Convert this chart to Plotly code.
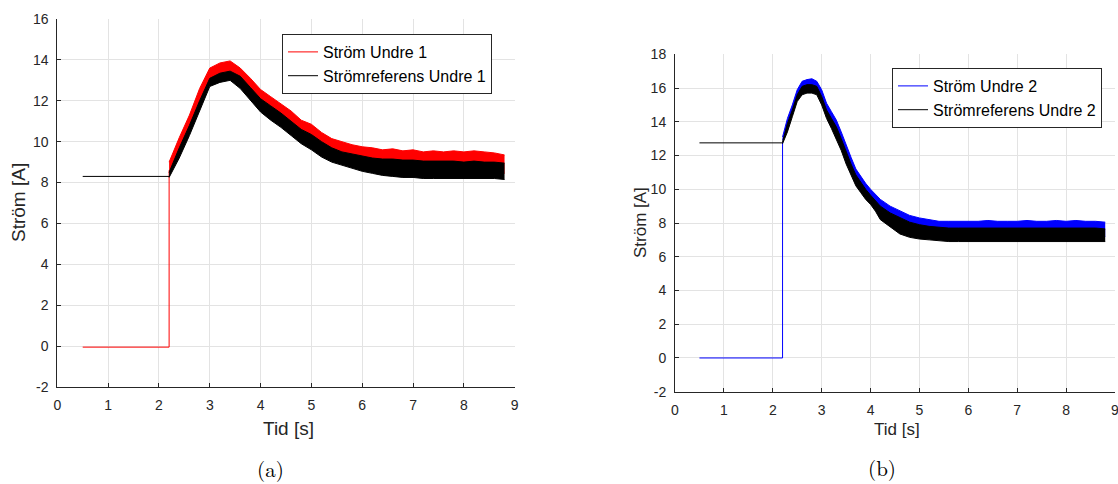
import plotly.graph_objects as go

# ---------------- data: panel (a) ----------------
t_pre1 = [0.5, 2.2, 2.2]
i1_pre = [-0.05, -0.05, 8.6]          # Ström Undre 1 before/at step
ref1_pre_t = [0.5, 2.2]
ref1_pre = [8.3, 8.3]                 # Strömreferens Undre 1 before step

t1 = [2.2, 2.4, 2.6, 2.8, 3.0, 3.2, 3.4, 3.6, 3.8, 4.0, 4.2, 4.4, 4.6, 4.8, 5.0,
      5.2, 5.4, 5.6, 5.8, 6.0, 6.2, 6.4, 6.6, 6.8, 7.0, 7.2, 7.4, 7.6, 7.8, 8.0,
      8.2, 8.4, 8.6, 8.8]
i1_hi = [9.0, 10.2, 11.3, 12.6, 13.6, 13.85, 13.95, 13.6, 13.1, 12.55, 12.2, 11.85,
         11.5, 11.05, 10.85, 10.45, 10.15, 10.0, 9.85, 9.75, 9.7, 9.6, 9.65, 9.55,
         9.6, 9.5, 9.55, 9.5, 9.55, 9.5, 9.55, 9.5, 9.45, 9.35]
i1_lo = [8.5, 9.5, 10.6, 11.8, 13.0, 13.2, 13.3, 12.9, 12.35, 11.75, 11.35, 11.0,
         10.6, 10.2, 9.9, 9.55, 9.3, 9.15, 9.0, 8.85, 8.75, 8.65, 8.6, 8.55,
         8.55, 8.5, 8.5, 8.5, 8.5, 8.5, 8.5, 8.5, 8.5, 8.45]
ref1_hi = [8.5, 9.7, 10.8, 12.0, 13.1, 13.35, 13.45, 13.2, 12.65, 12.1, 11.75, 11.4,
           11.0, 10.6, 10.35, 10.0, 9.7, 9.5, 9.4, 9.3, 9.2, 9.15, 9.15, 9.1,
           9.1, 9.05, 9.05, 9.05, 9.05, 9.0, 9.05, 9.0, 9.0, 8.95]
ref1_lo = [8.25, 9.2, 10.3, 11.5, 12.7, 12.9, 13.0, 12.6, 12.05, 11.45, 11.05, 10.7,
           10.3, 9.9, 9.6, 9.25, 9.0, 8.85, 8.7, 8.55, 8.45, 8.35, 8.3, 8.25,
           8.25, 8.2, 8.2, 8.2, 8.2, 8.2, 8.2, 8.2, 8.2, 8.15]

# ---------------- data: panel (b) ----------------
t_pre2 = [0.5, 2.2, 2.2]
i2_pre = [0.0, 0.0, 12.8]
ref2_pre_t = [0.5, 2.2]
ref2_pre = [12.75, 12.75]

t2 = [2.2, 2.3, 2.4, 2.5, 2.6, 2.7, 2.8, 2.9, 3.0, 3.1, 3.2, 3.3, 3.4, 3.5, 3.6,
      3.7, 3.8, 3.9, 4.0, 4.1, 4.2, 4.4, 4.6, 4.8, 5.0, 5.2, 5.4, 5.6, 5.8, 6.0,
      6.2, 6.4, 6.6, 6.8, 7.0, 7.2, 7.4, 7.6, 7.8, 8.0, 8.2, 8.4, 8.6, 8.8]
i2_hi = [13.1, 14.2, 15.0, 15.9, 16.4, 16.5, 16.55, 16.4, 15.9, 15.1, 14.6, 14.1,
         13.4, 12.6, 11.9, 11.2, 10.75, 10.35, 10.0, 9.7, 9.4, 9.0, 8.7, 8.45, 8.3,
         8.2, 8.1, 8.1, 8.1, 8.1, 8.1, 8.15, 8.1, 8.1, 8.1, 8.15, 8.1, 8.1, 8.15,
         8.1, 8.15, 8.1, 8.1, 8.05]
i2_lo = [12.9, 13.7, 14.6, 15.5, 15.9, 16.0, 16.0, 15.9, 15.3, 14.5, 13.9, 13.3,
         12.6, 11.8, 11.1, 10.5, 10.1, 9.7, 9.4, 9.0, 8.5, 8.05, 7.65, 7.45, 7.35,
         7.3, 7.25, 7.2, 7.2, 7.2, 7.2, 7.2, 7.2, 7.2, 7.2, 7.2, 7.2, 7.2, 7.2,
         7.2, 7.2, 7.2, 7.2, 7.2]
ref2_hi = [12.8, 13.9, 14.7, 15.6, 16.1, 16.2, 16.2, 16.1, 15.5, 14.7, 14.2, 13.7,
           13.0, 12.2, 11.5, 10.85, 10.4, 10.0, 9.65, 9.3, 9.0, 8.6, 8.3, 8.05, 7.9,
           7.8, 7.75, 7.7, 7.7, 7.7, 7.7, 7.72, 7.7, 7.7, 7.7, 7.72, 7.7, 7.7, 7.72,
           7.7, 7.72, 7.7, 7.7, 7.65]
ref2_lo = [12.7, 13.4, 14.3, 15.2, 15.6, 15.7, 15.7, 15.6, 15.0, 14.2, 13.6, 13.0,
           12.3, 11.5, 10.8, 10.2, 9.8, 9.4, 9.1, 8.7, 8.2, 7.75, 7.35, 7.15, 7.05,
           7.0, 6.95, 6.9, 6.9, 6.9, 6.9, 6.9, 6.9, 6.9, 6.9, 6.9, 6.9, 6.9, 6.9,
           6.9, 6.9, 6.9, 6.9, 6.9]

x_ticks = [0, 1, 2, 3, 4, 5, 6, 7, 8, 9]
x_ticktext = ["0", "1", "2", "3", "4", "5", "6", "7", "8", "9"]
y_ticks1 = [-2, 0, 2, 4, 6, 8, 10, 12, 14, 16]
y_ticktext1 = ["-2", "0", "2", "4", "6", "8", "10", "12", "14", "16"]
y_ticks2 = [-2, 0, 2, 4, 6, 8, 10, 12, 14, 16, 18]
y_ticktext2 = ["-2", "0", "2", "4", "6", "8", "10", "12", "14", "16", "18"]

RED, BLACK, BLUE = "#ff0000", "#000000", "#0000ff"
FONT = "Liberation Sans, Arial, Helvetica, sans-serif"
SERIF = "Latin Modern Roman, Liberation Serif, DejaVu Serif, serif"
TXT = "#262626"
GRID = "#e3e3e3"

fig = go.Figure()


def band(x, lo, hi, color, xa, ya):
    fig.add_trace(go.Scatter(x=x, y=lo, mode="lines", line=dict(color=color, width=1),
                             showlegend=False, hoverinfo="skip", xaxis=xa, yaxis=ya))
    fig.add_trace(go.Scatter(x=x, y=hi, mode="lines", line=dict(color=color, width=1),
                             fill="tonexty", fillcolor=color, showlegend=False,
                             hoverinfo="skip", xaxis=xa, yaxis=ya))


# panel (a)
fig.add_trace(go.Scatter(x=t_pre1, y=i1_pre, mode="lines", line=dict(color=RED, width=1),
                         name="Ström Undre 1", legend="legend", legendrank=1,
                         xaxis="x", yaxis="y"))
fig.add_trace(go.Scatter(x=ref1_pre_t, y=ref1_pre, mode="lines", line=dict(color=BLACK, width=1),
                         name="Strömreferens Undre 1", legend="legend", legendrank=2,
                         xaxis="x", yaxis="y"))
band(t1, i1_lo, i1_hi, RED, "x", "y")
band(t1, ref1_lo, ref1_hi, BLACK, "x", "y")

# panel (b)
fig.add_trace(go.Scatter(x=t_pre2, y=i2_pre, mode="lines", line=dict(color=BLUE, width=1),
                         name="Ström Undre 2", legend="legend2", legendrank=1,
                         xaxis="x2", yaxis="y2"))
fig.add_trace(go.Scatter(x=ref2_pre_t, y=ref2_pre, mode="lines", line=dict(color=BLACK, width=1),
                         name="Strömreferens Undre 2", legend="legend2", legendrank=2,
                         xaxis="x2", yaxis="y2"))
band(t2, i2_lo, i2_hi, BLUE, "x2", "y2")
band(t2, ref2_lo, ref2_hi, BLACK, "x2", "y2")

W, H = 1118, 484


def px(x):
    return x / W


def py(y):
    return 1 - y / H


axis_common = dict(showline=True, linecolor=TXT, linewidth=1, ticks="inside", ticklen=4,
                   tickcolor=TXT, showgrid=True, gridcolor=GRID, gridwidth=1,
                   zeroline=False, tickfont=dict(family=FONT, size=14, color=TXT),
                   ticklabelstandoff=5, mirror=False, automargin=False,
                   ticklabeloverflow="allow")

fig.update_layout(
    width=W, height=H, margin=dict(l=0, r=0, t=0, b=0, autoexpand=False),
    paper_bgcolor="white", plot_bgcolor="white",
    xaxis=dict(domain=[px(57.3), px(514.7)], range=[0, 9], tickvals=x_ticks,
               ticktext=x_ticktext, anchor="y", **axis_common),
    yaxis=dict(domain=[py(387), py(19)], range=[-2, 16], tickvals=y_ticks1,
               ticktext=y_ticktext1, anchor="x", **axis_common),
    xaxis2=dict(domain=[px(675), px(1115)], range=[0, 9], tickvals=x_ticks,
                ticktext=x_ticktext, anchor="y2", **axis_common),
    yaxis2=dict(domain=[py(391.7), py(54.3)], range=[-2, 18], tickvals=y_ticks2,
                ticktext=y_ticktext2, anchor="x2", **axis_common),
    legend=dict(x=px(282), y=py(34), xanchor="left", yanchor="top",
                bordercolor=TXT, borderwidth=1, bgcolor="white", traceorder="normal",
                font=dict(family=FONT, size=16, color="#000000"),
                tracegroupgap=0, itemwidth=30),
    legend2=dict(x=px(892), y=py(68), xanchor="left", yanchor="top",
                 bordercolor=TXT, borderwidth=1, bgcolor="white", traceorder="normal",
                 font=dict(family=FONT, size=16, color="#000000"),
                 tracegroupgap=0, itemwidth=30),
    showlegend=True,
)

annos = [
    dict(text="Ström [A]", x=px(18), y=py(203), textangle=-90, size=19, fam=FONT),
    dict(text="Ström [A]", x=px(640), y=py(223), textangle=-90, size=17, fam=FONT),
    dict(text="Tid [s]", x=px(289), y=py(428), textangle=0, size=19, fam=FONT),
    dict(text="Tid [s]", x=px(897), y=py(429), textangle=0, size=17, fam=FONT),
    dict(text="(a)", x=px(270), y=py(468), textangle=0, size=21, fam=SERIF),
    dict(text="(b)", x=px(882), y=py(467), textangle=0, size=21, fam=SERIF),
]
for a in annos:
    fig.add_annotation(text=a["text"], x=a["x"], y=a["y"], xref="paper", yref="paper",
                       xanchor="center", yanchor="middle", showarrow=False,
                       textangle=a["textangle"],
                       font=dict(family=a["fam"], size=a["size"],
                                 color=TXT if a["fam"] == FONT else "#000000"))

fig.write_html("out.html")
